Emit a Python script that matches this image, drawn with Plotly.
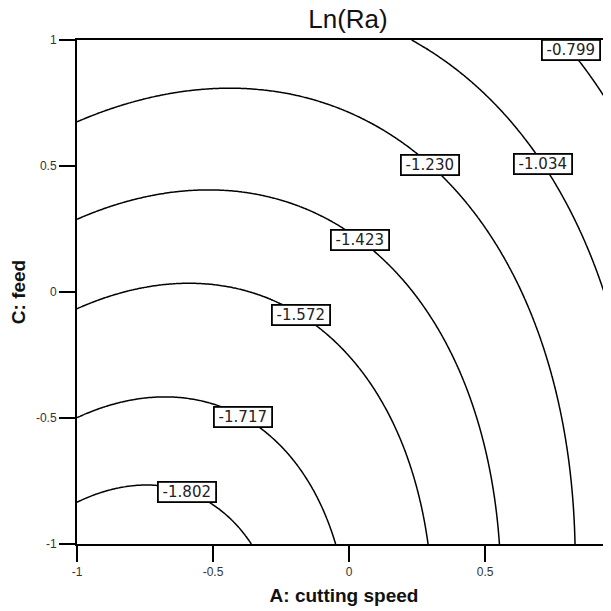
import numpy as np
import plotly.graph_objects as go

# Contour levels of Ln(Ra) shown in the chart
levels = [-1.802, -1.717, -1.572, -1.423, -1.230, -1.034, -0.799]

# Coded-factor quadratic response model:
# Ln(Ra) = b0 + bA*A + bC*C + bAA*A^2 + bCC*C^2 + bAC*A*C
model_terms = ["Intercept", "A", "C", "A^2", "C^2", "AC"]
model_coefs = [-1.5015, 0.2791, 0.3048, 0.2344, 0.1070, -0.0911]

# Tick values / labels
x_ticks = [-1, -0.5, 0, 0.5, 1]
y_ticks = [-1, -0.5, 0, 0.5, 1]
tick_text = ["-1", "-0.5", "0", "0.5", "1"]

# Cutting-speed value at which each contour label sits
label_speed = [-0.596, -0.39, -0.175, 0.041, 0.299, 0.713, 0.815]

b0, bA, bC, bAA, bCC, bAC = model_coefs
A = np.linspace(-1, 1, 301)
C = np.linspace(-1, 1, 301)
AA, CC = np.meshgrid(A, C)
Z = b0 + bA * AA + bC * CC + bAA * AA**2 + bCC * CC**2 + bAC * AA * CC

LAB_FONT = "DejaVu Sans, Verdana, sans-serif"
ARIAL = "Liberation Sans, Arial, sans-serif"

fig = go.Figure()
for lev in levels:
    fig.add_trace(go.Contour(
        x=A, y=C, z=Z,
        contours=dict(start=lev, end=lev, size=1, coloring="none", showlabels=False),
        line=dict(color="black", width=1.5, smoothing=1),
        showscale=False, hoverinfo="skip",
    ))

annotations = []
for lev, a in zip(levels, label_speed):
    qa = bCC
    qb = bC + bAC * a
    qc = b0 + bA * a + bAA * a * a - lev
    c_pos = (-qb + np.sqrt(qb * qb - 4 * qa * qc)) / (2 * qa)
    annotations.append(dict(
        x=a, y=float(c_pos), xref="x", yref="y", text=f"{lev:.3f}",
        showarrow=False, bgcolor="white", bordercolor="black", borderwidth=1.8,
        borderpad=0, width=56, height=18,
        font=dict(family=LAB_FONT, size=15, color="#222"),
    ))

fig.update_layout(
    width=611, height=611,
    margin=dict(l=69, r=8, t=32, b=75),
    paper_bgcolor="white", plot_bgcolor="white",
    showlegend=False,
    title=dict(text="Ln(Ra)", x=340 / 611, xanchor="center", xref="container",
               y=1 - 11 / 611, yanchor="middle",
               font=dict(family=ARIAL, size=26, color="#111")),
    annotations=annotations,
    xaxis=dict(
        range=[-1, 0.963], tickvals=x_ticks, ticktext=tick_text,
        showline=True, linecolor="black", linewidth=2, mirror=True,
        ticks="outside", ticklen=16, tickwidth=2, tickcolor="black",
        showgrid=False, zeroline=False,
        tickfont=dict(family=ARIAL, size=12, color="#333"),
        title=dict(text="<b>A: cutting speed</b>", standoff=10,
                   font=dict(family=ARIAL, size=19, color="#111")),
    ),
    yaxis=dict(
        range=[-1, 1], tickvals=y_ticks, ticktext=tick_text,
        showline=True, linecolor="black", linewidth=2,
        ticks="outside", ticklen=16, tickwidth=2, tickcolor="black",
        showgrid=False, zeroline=False,
        tickfont=dict(family=ARIAL, size=12, color="#333"),
        title=dict(text="<b>C: feed</b>", standoff=5,
                   font=dict(family=ARIAL, size=19, color="#111")),
    ),
)
fig.write_html("out.html")
